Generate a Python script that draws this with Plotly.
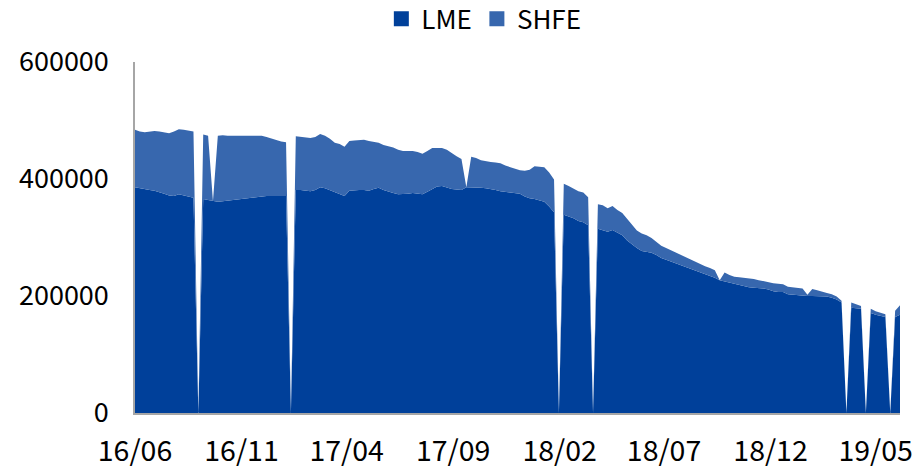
import pandas as pd
import plotly.graph_objects as go

# Weekly dates (Fridays)
dates = pd.date_range("2016-06-03", periods=158, freq="7D")

# Total stock (LME + SHFE), thousand tonnes
total_k = [
    484, 481, 480, 481, 482, 481, 480, 478, 481, 485, 484, 482, 481,
    0, 476, 474, 362, 474, 475, 474, 474, 475, 475, 474, 475, 474, 474,
    472, 469, 466, 464, 463, 0,
    473, 472, 471, 470, 472, 477, 474, 469, 462, 460, 455, 465, 466, 466,
    467, 465, 463, 462, 458, 456, 454, 450, 448, 448, 448, 446, 443, 448,
    453, 453, 453, 450, 444, 439, 434, 386, 438, 436, 432, 430, 429, 428,
    427, 423, 420, 417, 415, 414, 416, 422, 421, 420, 411, 399, 0,
    392, 388, 384, 379, 377, 369, 0,
    357, 355, 350, 354, 347, 342, 332, 322, 312, 307, 304, 299, 293, 286,
    282, 278, 275, 271, 266, 262, 259, 255, 251, 248, 244, 227, 240, 236,
    233, 232, 231, 231, 229, 227, 225, 223, 222, 221, 220, 216, 215, 215,
    213, 202, 212, 210, 207, 205, 203, 199, 192, 0,
    189, 186, 183, 0, 178, 174, 172, 169, 0, 175, 184,
]

lme_k = [
    386, 384, 383, 381, 380, 378, 375, 372, 371, 374, 372, 370, 368,
    0, 366, 364, 362, 361, 362, 363, 364, 365, 366, 368, 369, 370, 371,
    371, 371, 371, 371, 371, 0,
    381, 381, 380, 379, 381, 386, 384, 381, 378, 374, 371, 380, 381, 381,
    381, 380, 383, 385, 381, 378, 376, 374, 374, 375, 376, 375, 374, 378,
    382, 387, 388, 385, 383, 382, 381, 386, 386, 386, 385, 384, 383, 381,
    379, 378, 377, 376, 375, 370, 367, 366, 364, 361, 353, 343, 0,
    339, 336, 333, 328, 326, 321, 0,
    315, 313, 310, 313, 308, 304, 295, 288, 282, 277, 276, 274, 270, 265,
    262, 259, 256, 252, 250, 247, 244, 241, 237, 234, 231, 227, 225, 222,
    220, 218, 216, 215, 214, 214, 213, 211, 208, 207, 207, 203, 202, 202,
    201, 200, 200, 200, 200, 199, 197, 194, 189, 0,
    180, 179, 178, 0, 171, 168, 166, 164, 0, 164, 168,
]

lme = [v * 1000 for v in lme_k]
shfe = [(t - l) * 1000 for t, l in zip(total_k, lme_k)]

LME_COLOR = "#00409A"
SHFE_COLOR = "#3767AE"
FONT = "Noto Sans CJK SC"

fig = go.Figure()
fig.add_trace(go.Scatter(
    x=dates, y=lme, name="LME", stackgroup="s", mode="lines",
    line=dict(width=0, color=LME_COLOR), fillcolor=LME_COLOR, showlegend=False,
))
fig.add_trace(go.Scatter(
    x=dates, y=shfe, name="SHFE", stackgroup="s", mode="lines",
    line=dict(width=0, color=SHFE_COLOR), fillcolor=SHFE_COLOR, showlegend=False,
))
# legend entries (square swatches)
for name, col in [("LME", LME_COLOR), ("SHFE", SHFE_COLOR)]:
    fig.add_trace(go.Scatter(
        x=[None], y=[None], mode="markers", name=name,
        marker=dict(symbol="square", size=15, color=col),
    ))

fig.update_layout(
    width=916, height=469,
    margin=dict(l=135, r=16, t=62, b=56, autoexpand=False),
    paper_bgcolor="white", plot_bgcolor="white",
    font=dict(family=FONT, size=27, color="#000000"),
    showlegend=True,
    legend=dict(
        orientation="h", x=0.456, xanchor="center",
        yref="container", y=0.96, yanchor="middle",
        font=dict(size=26), itemwidth=30, tracegroupgap=0, traceorder="normal",
    ),
    xaxis=dict(
        type="date", range=[dates[0], dates[-1]],
        tick0=dates[0], dtick="M5", tickformat="%y/%m",
        showgrid=False, zeroline=False, automargin=False,
        showline=True, linecolor="#A6A6A6", linewidth=1.5,
        ticks="", ticklabelstandoff=12, tickfont=dict(size=28.5),
    ),
    yaxis=dict(
        range=[0, 600000], tickvals=[0, 200000, 400000, 600000],
        ticktext=["0", "200000", "400000", "600000"],
        showgrid=False, zeroline=False, automargin=False,
        showline=True, linecolor="#A6A6A6", linewidth=1.5,
        ticks="", ticklabelstandoff=19,
    ),
)

fig.write_html(
    "out.html",
    config={"displayModeBar": False},
    post_script="document.body.style.margin='0';",
)
